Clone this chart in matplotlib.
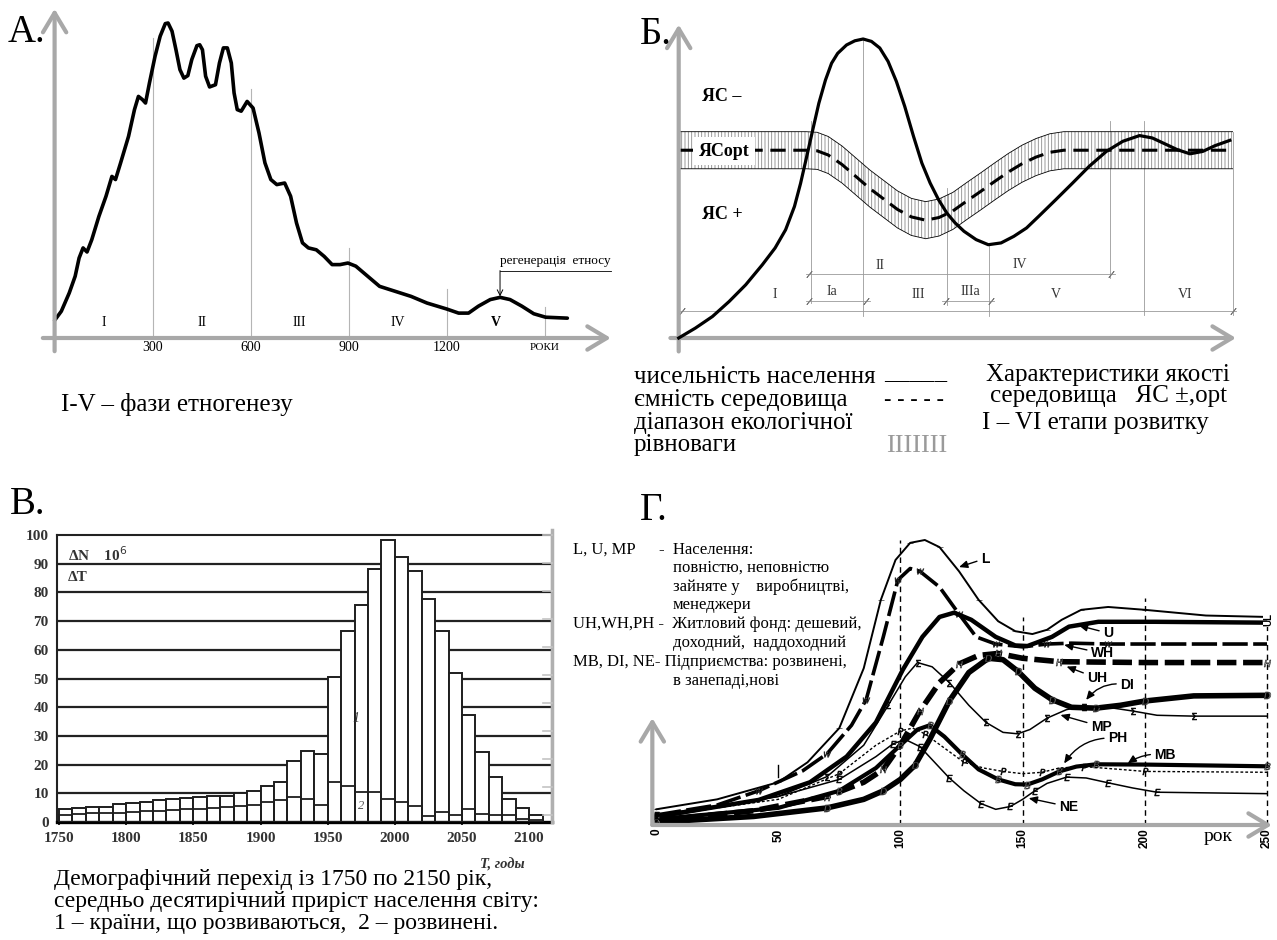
import matplotlib.pyplot as plt
from matplotlib.lines import Line2D

plt.rcParams['font.family'] = ['Liberation Serif', 'DejaVu Serif']
plt.rcParams['hatch.linewidth'] = 0.6

# ---------- panel A: phases of ethnogenesis ----------
a_years = [0, 20.6, 44.8, 62.9, 75, 87.1, 99.2, 113.7, 135.5, 157.3, 175.4, 186.3, 202, 226.2,
           244.4, 256.5, 268.6, 278.2, 290.3, 307.3, 323, 338.7, 347.2, 359.3, 371.4, 383.5,
           395.6, 407.7, 419.8, 435.5, 444, 452.4, 462.1, 474.2, 492.3, 504.4, 516.5, 528.6,
           540.7, 549.2, 558.9, 571, 589.1, 607.3, 625.4, 643.6, 661.7, 679.9, 704, 722.2,
           740.3, 758.5, 776.6, 800.8, 825, 849.2, 873.4, 897.6, 921.8, 958.1, 994.4, 1042.8,
           1091.1, 1139.5, 1200, 1236.3, 1266.6, 1296.8, 1333.1, 1363.3, 1393.6, 1429.9,
           1466.2, 1502.5, 1569]
a_values = [5.6, 8.5, 14.3, 19.6, 25.4, 28.6, 27.3, 31.2, 38.6, 45, 51.3, 50.3, 55.6, 64,
            72.5, 76.7, 75.7, 74.6, 81, 89.4, 95.8, 99.8, 100, 97.4, 91.5, 85.2,
            82.5, 83.3, 88.4, 92.8, 93.1, 91.5, 83.1, 79.7, 80.4, 87.3, 92.1, 92.1,
            87.3, 77.8, 72.5, 72, 75.1, 73, 65.1, 55.6, 50.3, 48.7, 49.2, 45,
            36.5, 30.2, 28.6, 28, 25.9, 23.3, 23.3, 23.8, 22.8, 19.6, 16.4, 14.8,
            13.2, 11.1, 9.2, 7.9, 7.9, 10.1, 12.2, 12.9, 12.2, 10.1,
            7.7, 6.6, 6.3]
a_ticks = [300, 600, 900, 1200]
a_line_tops = [95.2, 79, 28.6, 15.6, 10]
a_phases = ['I', 'II', 'III', 'IV', 'V']

# ---------- panel Б: population vs environment capacity ----------
b_pop_x = [0, 3, 6.1, 9.1, 12.1, 15.1, 17.4, 19.3, 20.9, 22, 23.1, 24.2, 25.3, 26.5, 27.6, 28.7,
           30.3, 31.8, 33.3, 34.8, 36.3, 37.8, 39.3, 40.8, 42.4, 43.9, 45.4, 46.9, 48.4, 49.9,
           51.5, 53.7, 55.9, 58.2, 60.5, 62.8, 65, 68.1, 71.1, 74.1, 77.2, 80.2, 83.2, 85.5,
           87.7, 90, 92.3, 94.6, 96.8, 99.5]
b_pop_y = [0, 3.3, 7.2, 12.2, 17.8, 24.5, 30.1, 36.2, 44, 51.7, 60.6, 69.6, 78.5, 86.3, 91.9, 95.2,
           98, 99.4, 100, 99.2, 97, 92.5, 85.8, 77.5, 67.4, 58.5, 51.8, 46.3, 41.8, 38.5,
           35.7, 32.9, 31.2, 31.8, 34, 36.8, 40.7, 46.3, 51.8, 57.4, 62.4, 65.8, 67.7, 66.9,
           65, 63, 61.6, 62.4, 64.3, 66.1]
b_cap_x = [0, 23, 25, 27, 29.5, 32, 34.5, 37, 39.5, 42, 44.6, 47, 49.5, 52, 54.5, 57, 59.5,
           62, 64.5, 67, 69.5, 100]
b_cap_y = [62.8, 62.8, 62.6, 61.2, 58, 54, 50, 46.5, 43, 40.5, 39.4, 40.3, 42.5, 45.8, 49,
           52.3, 55.5, 58.3, 60.5, 62.1, 62.8, 62.8]
b_band_half = 6.2
b_stage_lines = [(23.8, 72.5, 11.7), (33.3, 100, 7.2), (48.4, 50.2, 11.1), (56, 31.2, 7.2),
                 (77.9, 72.5, 20), (84, 72.5, 7.8), (100, 69, 7.8)]
b_stage_rows = [(8.9, 0, 100.6), (12.3, 23, 34.5), (12.3, 47.6, 56.9), (21.5, 23, 78.7)]
b_stage_labels = [('I', 17.4, 14.5), ('Ia', 27.6, 15.6), ('III', 43.3, 14.5), ('IIIa', 52.6, 15.6),
                  ('V', 68, 14.5), ('VI', 91.5, 14.5), ('II', 36.3, 24.2), ('IV', 61.6, 24.5)]

# ---------- panel В: demographic transition ----------
v_years = list(range(1750, 2110, 10))
v_developing = [4.6, 4.9, 5.2, 5.4, 6.1, 6.6, 7.1, 7.5, 8.0, 8.4, 8.6, 8.9, 9.2, 10.0, 10.7, 12.6,
                13.8, 21.3, 24.7, 23.6, 50.6, 66.7, 75.5, 88.2, 98.3, 92.3, 87.4, 77.6, 66.7, 52.0,
                37.4, 24.5, 15.7, 8.0, 4.9, 2.6]
v_developed = [2.5, 2.8, 3.0, 3.0, 3.2, 3.5, 3.8, 4.0, 4.3, 4.5, 4.6, 5.0, 5.2, 5.5, 6.0, 7.0,
               7.5, 8.6, 8.0, 6.0, 13.8, 12.6, 10.6, 10.3, 8.0, 6.9, 5.7, 2.0, 3.4, 2.3,
               4.6, 2.9, 2.3, 2.3, 1.1, 0.6]
v_xticks = list(range(1750, 2101, 50))
v_yticks = list(range(0, 101, 10))

# ---------- panel Г: urban dynamics ----------
g_curves = {
    'L': ([0, 25, 50, 62, 75, 85, 92, 98, 104, 110, 116, 124, 132, 140, 147, 154, 160, 166, 174, 185, 200, 225, 250],
          [5.5, 9, 15, 22, 34, 55, 79, 93, 99, 100, 97.5, 89, 79, 71.5, 68, 67, 68.5, 72, 75.5, 76.5, 75.5, 73.5, 73]),
    'WH': ([0, 25, 42, 60, 70, 80, 86, 93, 99, 104, 108, 116, 124, 131, 139, 150, 160, 170, 185, 250],
           [3.5, 7, 12, 19, 25, 35, 44, 66, 86, 90, 89, 83.5, 74, 66, 63.5, 62.5, 63.5, 63.8, 63.5, 63.5]),
    'U': ([0, 42, 63, 78, 90, 101, 109, 116, 122, 129, 139, 147, 152, 162, 169, 181, 204, 250],
          [2.9, 8.8, 15, 24, 36, 54.5, 66, 73, 74.5, 72, 66, 63, 62.8, 66, 69.6, 71.3, 71.3, 71]),
    'UH': ([0, 40, 70, 85, 93, 100, 108, 116, 124, 132, 140, 150, 165, 200, 250],
           [1.5, 5, 10, 15, 19.5, 28, 40, 50, 56.5, 59.5, 60.2, 58.5, 57.3, 57, 57]),
    'DI': ([0, 40, 70, 85, 93, 100, 106, 112, 120, 128, 136, 142, 148, 155, 162, 170, 180, 190, 200, 220, 250],
           [1, 3, 6, 9, 12, 16, 21, 30, 43.5, 53.5, 58.5, 58, 54, 48, 44, 41.3, 41, 42, 43.5, 45.3, 45.5]),
    'MP': ([0, 50, 70, 85, 95, 102, 107, 113, 120, 128, 135, 142, 148, 153, 160, 168, 175, 185, 195, 205, 220, 250],
           [2.3, 10, 17, 28, 42, 52, 57, 55.5, 50, 42, 36, 32.5, 32, 33.5, 37.5, 40.5, 41.5, 41.3, 40, 38.5, 38.2, 38.2]),
    'MB': ([0, 50, 75, 90, 100, 107, 112, 118, 125, 132, 140, 147, 152, 158, 165, 172, 180, 200, 250],
           [2, 6, 12, 20, 28, 33.5, 35, 31, 25, 19.5, 16, 14.3, 14.2, 16, 18.8, 20.5, 21.3, 21.2, 20.6]),
    'PH': ([0, 50, 75, 90, 100, 105, 110, 118, 126, 134, 142, 150, 158, 165, 175, 190, 200, 250],
           [3, 9, 18, 28, 33, 34, 32, 27, 22, 20, 18.8, 18, 18.5, 20, 20.5, 19.5, 18.8, 18.5]),
    'NE': ([0, 50, 75, 90, 97, 102, 108, 114, 120, 126, 133, 139, 145, 150, 155, 160, 168, 176, 185, 195, 205, 250],
           [3.5, 10, 16, 24, 28.5, 30, 27.5, 22, 16.5, 12, 7.5, 5.5, 6.5, 9, 12, 14.6, 16.8, 16.5, 14.8, 13, 11.5, 11]),
}
g_styles = {
    'L': dict(lw=1.4, ls='-', marker='_', ms=5),
    'WH': dict(lw=2.6, ls=(0, (7, 1.5)), marker='$W$', ms=5),
    'U': dict(lw=3.2, ls='-', marker=None, ms=0),
    'UH': dict(lw=4.0, ls=(0, (3.5, 1.2)), marker='$H$', ms=5),
    'DI': dict(lw=4.0, ls='-', marker='$D$', ms=5),
    'MP': dict(lw=1.1, ls='-', marker='$\\Sigma$', ms=5),
    'MB': dict(lw=3.0, ls='-', marker='$B$', ms=5),
    'PH': dict(lw=1.0, ls=(0, (2, 1.5)), marker='$P$', ms=5),
    'NE': dict(lw=1.1, ls='-', marker='$E$', ms=5),
}
g_labels = [('L', (133, 93.5), (124, 90.5), 0.0), ('U', (183, 67.3), (173, 70), 0.0),
            ('WH', (178, 60.2), (167, 63.2), 0.0), ('UH', (176.5, 51.5), (168, 55.6), 0.0),
            ('DI', (190, 49.2), (176, 43.9), 0.3), ('MP', (178, 34.5), (165.5, 38.6), 0.0),
            ('PH', (185, 30.4), (167, 21.6), 0.3), ('MB', (204, 24.6), (193, 21.6), 0.2),
            ('NE', (165, 6.4), (152.5, 9.4), 0.0)]
g_xticks = [0, 50, 100, 150, 200, 250]
g_dash_lines = [(100, 100), (150, 73), (200, 79.5), (250, 73.7)]

W, H = 1277, 940
fig = plt.figure(figsize=(W / 100, H / 100), dpi=100)
GRAY = '#a8a8a8'
SANS = ['Liberation Sans Narrow', 'Liberation Sans', 'DejaVu Sans']


def panel(left, right, top, bottom):
    ax = fig.add_axes([left / W, 1 - bottom / H, (right - left) / W, (bottom - top) / H])
    return ax


def ftext(x, y, s, **kw):
    fig.text(x / W, 1 - y / H, s, **kw)


def axis_arrow(ax, tail, tip, scale=14):
    ax.annotate('', xy=tip, xytext=tail, annotation_clip=False,
                arrowprops=dict(arrowstyle='->,head_length=1.0,head_width=0.6', lw=3,
                                color=GRAY, mutation_scale=scale, shrinkA=0, shrinkB=0))


# ================= A =================
axA = panel(54.6, 544.8, 23, 338)
axA.set_xlim(0, 1500)
axA.set_ylim(0, 100)
axA.set_axis_off()
for t, top in zip(a_ticks + [1500], a_line_tops):
    axA.plot([t, t], [0, top], color='#b5b5b5', lw=0.8, clip_on=False)
axA.plot(a_years, a_values, color='black', lw=2.6, solid_capstyle='round', clip_on=False)
axis_arrow(axA, (0, -4.2), (0, 104.5))
axis_arrow(axA, (-36, 0), (1702, 0))
for t in a_ticks:
    axA.text(t, -2.9, str(t), ha='center', va='center', fontsize=10)
axA.text(1500, -2.9, 'РОКИ', ha='center', va='center', fontsize=8)
for i, ph in enumerate(a_phases):
    axA.text(150 + 300 * i, 4.8, ph, ha='center', va='center', fontsize=10,
             fontweight='bold' if ph == 'V' else 'normal')
axA.text(1363, 22.6, 'регенерація  етносу', ha='left', va='bottom', fontsize=9.5)
axA.plot([1363, 1702], [21.4, 21.4], color='black', lw=0.6, clip_on=False)
axA.annotate('', xy=(1363, 13.2), xytext=(1363, 21.4), annotation_clip=False,
             arrowprops=dict(arrowstyle='->', lw=0.7, color='black', shrinkA=0, shrinkB=0))
axA.text(20.6, -21.2, 'I-V – фази етногенезу', ha='left', va='center', fontsize=18)
ftext(8, 33, 'А.', fontsize=28, va='center')

# ================= Б =================
axB = panel(678.7, 1232.6, 39, 338)
axB.set_xlim(0, 100)
axB.set_ylim(0, 100)
axB.set_axis_off()
lo = [c - b_band_half for c in b_cap_y]
hi = [c + b_band_half for c in b_cap_y]
axB.fill_between(b_cap_x, lo, hi, facecolor='white', edgecolor='#8a8a8a', hatch='|||||', lw=0, zorder=1)
axB.plot(b_cap_x, lo, color='black', lw=0.6, zorder=2)
axB.plot(b_cap_x, hi, color='black', lw=0.6, zorder=2)
for x, top, bot in b_stage_lines:
    axB.plot([x, x], [bot, top], color='#9a9a9a', lw=0.6, zorder=1.5, clip_on=False)
for y, x0, x1 in b_stage_rows:
    axB.plot([x0, x1], [y, y], color='#9a9a9a', lw=0.6, zorder=1.5, clip_on=False)
    axB.plot([x0 + 0.6, x1 - 0.6], [y, y], ls='none', marker=(2, 2, -40), ms=6,
             mec='#777777', mew=0.6, clip_on=False)
for s, x, y in b_stage_labels:
    axB.text(x, y, s, ha='center', va='center', fontsize=10, color='#333333')
axB.plot(b_cap_x, b_cap_y, color='black', lw=2.2, dashes=(5, 2.5), zorder=3)
axB.plot(b_pop_x, b_pop_y, color='black', lw=2.3, zorder=4, clip_on=False)
axB.text(4.2, 80.8, 'ЯС –', fontsize=13, fontweight='bold', va='center', zorder=5)
axB.text(3.6, 62.5, 'ЯСopt', fontsize=13, fontweight='bold', va='center', zorder=5,
         bbox=dict(facecolor='white', edgecolor='none', pad=4))
axB.text(4.2, 41.2, 'ЯС +', fontsize=13, fontweight='bold', va='center', zorder=5)
axis_arrow(axB, (0, -4.5), (0, 104.8))
axis_arrow(axB, (-1.5, 0), (100.6, 0))
ftext(640, 35, 'Б.', fontsize=28, va='center')

leg = dict(fontsize=18, va='center', ha='left')
ftext(634, 377, 'чисельність населення', **leg)
ftext(884, 372, '_____', **leg)
ftext(634, 400, 'ємність середовища', **leg)
ftext(884, 400, '- - - - -', fontsize=16, va='center', ha='left', fontweight='bold')
ftext(634, 423, 'діапазон екологічної', **leg)
ftext(634, 445, 'рівноваги', **leg)
ftext(886, 446, 'IIIIIII', fontsize=19, va='center', ha='left', color='#9a9a9a')
ftext(1108, 375, 'Характеристики якості', fontsize=18, va='center', ha='center')
ftext(1108, 396, 'середовища   ЯС ±,opt', fontsize=18, va='center', ha='center')
ftext(982, 423, 'I – VI етапи розвитку', **leg)

# ================= В =================
axV = panel(57, 552, 535, 822)
axV.set_xlim(1748.5, 2117)
axV.set_ylim(0, 100)
for v in v_yticks[1:-1]:
    axV.axhline(v, color='#222222', lw=1.6, zorder=1)
axV.bar(v_years, v_developing, width=10, align='edge', facecolor='white',
        edgecolor='#1e1e1e', lw=1.4, zorder=2)
axV.bar(v_years, v_developed, width=10, align='edge', facecolor='none',
        edgecolor='#1e1e1e', lw=1.3, zorder=3)
for side in ['left', 'top', 'right']:
    axV.spines[side].set_linewidth(1.5)
    axV.spines[side].set_color('#222222')
axV.spines['bottom'].set_linewidth(2.4)
axV.set_xticks(v_xticks)
axV.set_yticks(v_yticks)
axV.tick_params(axis='y', length=0, pad=6, labelsize=11, labelcolor='#333333')
axV.tick_params(axis='x', length=5, width=1.2, direction='inout', pad=5, labelsize=11,
                labelcolor='#333333')
for lab in axV.get_xticklabels() + axV.get_yticklabels():
    lab.set_fontweight('bold')
axV.text(1756.7, 93, 'ΔN    10$^6$', fontsize=11, fontweight='bold', va='center', color='#333333')
axV.text(1756.7, 85.3, 'ΔT', fontsize=11, fontweight='bold', va='center', color='#333333')
axV.text(1971, 36, '1', fontsize=10, style='italic', ha='center', va='center', color='#333333')
axV.text(1975, 5.5, '2', fontsize=9, style='italic', ha='center', va='center', color='#555555', zorder=4)
axV.text(2080, -15, 'T, годы', fontsize=10.5, fontweight='bold', style='italic', ha='center',
         va='center', color='#333333')
ftext(10, 505, 'В.', fontsize=28, va='center')
ftext(54, 880, 'Демографічний перехід із 1750 по 2150 рік,', fontsize=17, va='center')
ftext(54, 902, 'середньо десятирічний приріст населення світу:', fontsize=17, va='center')
ftext(54, 924, '1 – країни, що розвиваються,  2 – розвинені.', fontsize=17, va='center')

# ================= Г =================
axG = panel(656, 1267, 540, 825)
axG.set_xlim(0, 250)
axG.set_ylim(0, 100)
axG.set_axis_off()
for x, top in g_dash_lines:
    axG.plot([x, x], [0, top], color='black', lw=1.0, dashes=(4, 3), clip_on=False)
axG.plot([50, 50], [17, 21], color='black', lw=1.0)
for name, (xs, ys) in g_curves.items():
    st = g_styles[name]
    thick = st['lw'] >= 2.5
    axG.plot(xs, ys, color='black', lw=st['lw'], ls=st['ls'], marker=st['marker'], ms=st['ms'],
             markevery=2, mfc='white' if thick else 'black', mec='black', mew=0.4,
             solid_capstyle='round', clip_on=False)
for name, txt_xy, head_xy, rad in g_labels:
    axG.annotate(name, xy=head_xy, xytext=txt_xy, fontsize=10, fontweight='bold',
                 family=SANS, ha='left', va='center', annotation_clip=False,
                 arrowprops=dict(arrowstyle='-|>,head_length=0.5,head_width=0.22', lw=1.0,
                                 color='black', shrinkA=1, shrinkB=0,
                                 connectionstyle=f'arc3,rad={rad}'))
axG.text(250.5, 72, 'UL', fontsize=7, fontweight='bold', family=SANS, rotation=90,
         ha='center', va='center', bbox=dict(facecolor='white', edgecolor='none', pad=0.5))
axis_arrow(axG, (-1.5, 0), (-1.5, 37.5))
axis_arrow(axG, (-1.5, 0), (252, 0))
for t in g_xticks:
    axG.text(t, -1.2, str(t), fontsize=8.5, fontweight='bold', family=SANS, rotation=90,
             ha='center', va='top')
axG.text(230, -4, 'рок', fontsize=14, ha='center', va='center')
ftext(640, 510, 'Г.', fontsize=28, va='center')

gl = dict(fontsize=12, va='center', ha='left')
ftext(573, 550, 'L, U, MP', **gl)
ftext(659, 550, '-  Населення:', **gl)
ftext(673, 568, 'повністю, неповністю', **gl)
ftext(673, 587, 'зайняте у    виробництві,', **gl)
ftext(673, 605, 'менеджери', **gl)
ftext(573, 624, 'UH,WH,PH -  Житловий фонд: дешевий,', **gl)
ftext(673, 643, 'доходний,  наддоходний', **gl)
ftext(573, 662, 'MB, DI, NE- Підприємства: розвинені,', **gl)
ftext(673, 681, 'в занепаді,нові', **gl)

# scanned ruler edge on the left of panel Г
fig.add_artist(Line2D([552 / W, 552 / W], [1 - 822 / H, 1 - 530 / H], color='#b0b0b0', lw=2.5))
for k in range(11):
    yk = 1 - (535 + 28 * k) / H
    fig.add_artist(Line2D([543 / W, 552 / W], [yk, yk], color='#c4c4c4', lw=1.2))

fig.savefig('out.png', dpi=100, facecolor='white')
